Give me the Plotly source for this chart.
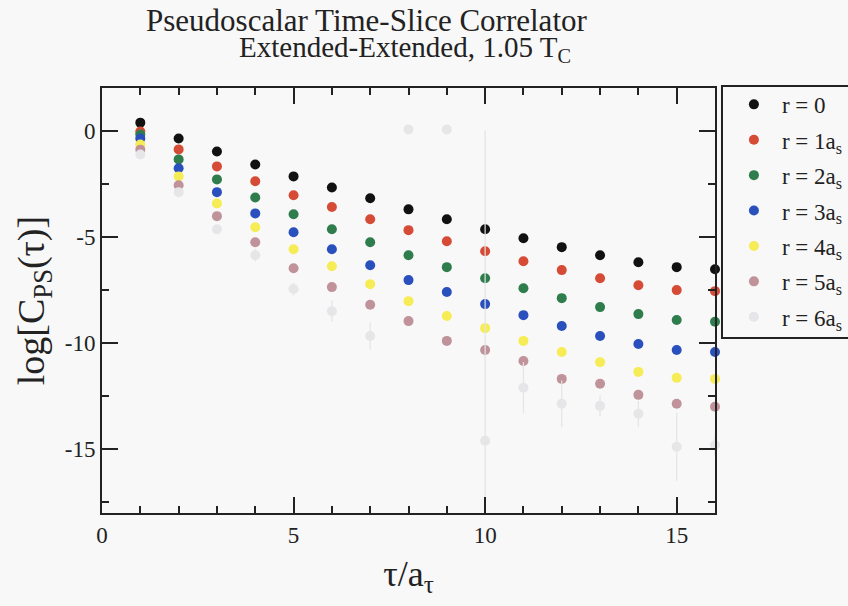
import plotly.graph_objects as go

tau = list(range(1, 17))
r0 = [0.37, -0.38, -0.99, -1.6, -2.16, -2.68, -3.19, -3.71, -4.18, -4.65, -5.07, -5.49, -5.87, -6.2, -6.43, -6.53]
r1 = [-0.05, -0.89, -1.69, -2.39, -3.05, -3.6, -4.18, -4.69, -5.21, -5.68, -6.15, -6.57, -6.95, -7.28, -7.51, -7.56]
r2 = [-0.19, -1.36, -2.30, -3.15, -3.94, -4.65, -5.26, -5.87, -6.43, -6.95, -7.42, -7.89, -8.31, -8.64, -8.92, -9.0]
r3 = [-0.38, -1.78, -2.9, -3.9, -4.79, -5.59, -6.34, -7.04, -7.6, -8.17, -8.69, -9.2, -9.67, -10.05, -10.33, -10.42]
r4 = [-0.66, -2.16, -3.43, -4.55, -5.59, -6.39, -7.23, -8.03, -8.73, -9.3, -9.9, -10.42, -10.9, -11.36, -11.64, -11.69]
r5 = [-0.9, -2.58, -4.03, -5.26, -6.48, -7.37, -8.2, -8.97, -9.9, -10.33, -10.85, -11.69, -11.92, -12.44, -12.86, -13.0]
r6 = [-1.13, -2.9, -4.65, -5.87, -7.46, -8.5, -9.67, 0.05, 0.05, -14.6, -12.1, -12.86, -12.96, -13.33, -14.88, -14.8]
r6_err = [0.1, 0.2, 0.2, 0.3, 0.3, 0.5, 0.65, 0.1, 0.1, 14.6, 1.2, 1.1, 0.5, 0.6, 1.6, 0.5]

series = [r0, r1, r2, r3, r4, r5, r6]
names = ["r = 0", "r = 1a<sub>s</sub>", "r = 2a<sub>s</sub>", "r = 3a<sub>s</sub>",
         "r = 4a<sub>s</sub>", "r = 5a<sub>s</sub>", "r = 6a<sub>s</sub>"]
colors = ["#111111", "#d64b35", "#2f7d4c", "#2a50bd", "#f6ec55", "#c0939a", "#e6e6e8"]

xtick_vals = [0, 5, 10, 15]
xtick_text = ["0", "5", "10", "15"]
ytick_vals = [-15, -10, -5, 0]
ytick_text = ["-15", "-10", "-5", "0"]

FONT = "Liberation Serif"
INK = "#222222"

fig = go.Figure()
for i, (ys, nm, col) in enumerate(zip(series, names, colors)):
    kw = {}
    if i == 6:
        kw["error_y"] = dict(type="data", array=r6_err, visible=True, color="#e4e4e6",
                             thickness=1.2, width=0)
    fig.add_trace(go.Scatter(x=tau, y=ys, mode="markers", name=nm, legendgroup=str(i),
                             marker=dict(size=10, color=col), cliponaxis=False, **kw))

axis_common = dict(showgrid=False, zeroline=False, showline=True, linecolor=INK,
                   linewidth=2, mirror="allticks", ticks="inside", ticklen=16, tickwidth=2,
                   tickcolor=INK, tickfont=dict(family=FONT, size=23, color=INK))

fig.update_xaxes(range=[0, 16], tickvals=xtick_vals, ticktext=xtick_text,
                 minor=dict(dtick=1, tick0=0, ticks="inside", ticklen=7, tickwidth=2, tickcolor=INK),
                 title=dict(text="τ/a<sub>τ</sub>", font=dict(family=FONT, size=36, color=INK), standoff=14),
                 **axis_common)
fig.update_yaxes(range=[-18, 2], tickvals=ytick_vals, ticktext=ytick_text,
                 minor=dict(dtick=2.5, tick0=0, ticks="inside", ticklen=7, tickwidth=2, tickcolor=INK),
                 title=dict(text="log[C<sub>PS</sub>(τ)]", font=dict(family=FONT, size=38, color=INK), standoff=8),
                 **axis_common)

fig.add_annotation(text="Pseudoscalar Time-Slice Correlator", xref="paper", yref="paper",
                   x=0.431, y=1.0, yshift=68, xanchor="center", yanchor="middle", showarrow=False,
                   font=dict(family=FONT, size=31, color=INK))
fig.add_annotation(text="Extended-Extended, 1.05 T<sub>C</sub>", xref="paper", yref="paper",
                   x=0.494, y=1.0, yshift=39, xanchor="center", yanchor="middle", showarrow=False,
                   font=dict(family=FONT, size=29, color=INK))

# legend frame
fig.add_shape(type="rect", xref="paper", yref="paper", x0=1.0114, x1=1.2186, y0=0.4118, y1=1.0047,
              line=dict(color=INK, width=2), fillcolor="rgba(0,0,0,0)", layer="above")

fig.update_layout(
    width=848, height=606,
    margin=dict(l=102, r=133, t=88, b=93, autoexpand=False),
    paper_bgcolor="#f8f8f8", plot_bgcolor="#f8f8f8",
    showlegend=True,
    legend=dict(x=1.0178, y=1.012, xanchor="left", yanchor="top", bgcolor="rgba(0,0,0,0)",
                borderwidth=0, traceorder="grouped", tracegroupgap=2.5, itemwidth=46,
                font=dict(family=FONT, size=23, color=INK)),
)

fig.write_html("out.html")
